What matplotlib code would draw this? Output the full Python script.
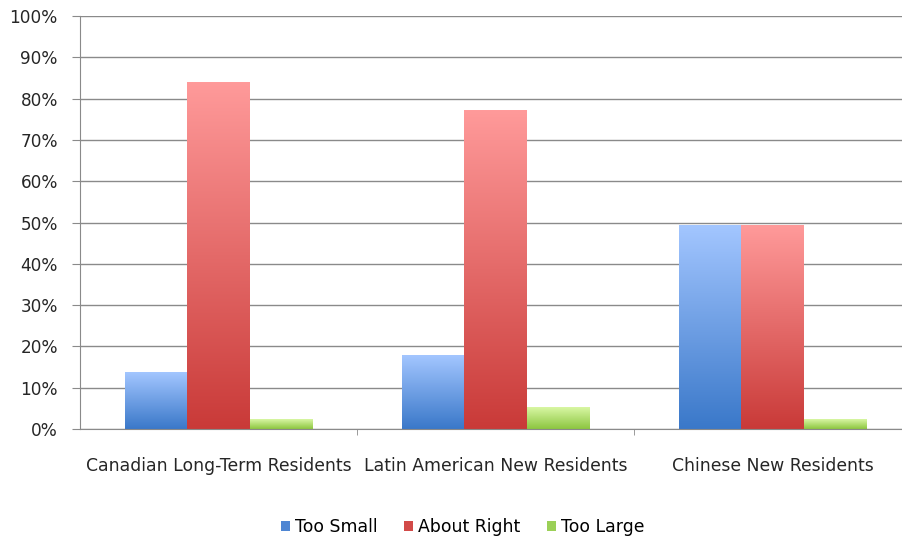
import numpy as np
import matplotlib.pyplot as plt
from matplotlib.colors import LinearSegmentedColormap
from matplotlib.patches import Patch
from matplotlib.ticker import PercentFormatter, FixedLocator, NullFormatter

categories = ['Canadian Long-Term Residents', 'Latin American New Residents', 'Chinese New Residents']
series = ['Too Small', 'About Right', 'Too Large']
too_small = [13.8, 17.7, 49.2]
about_right = [84.0, 77.2, 49.2]
too_large = [2.4, 5.2, 2.2]

# (top colour, bottom colour) for each series' vertical gradient
shades = [('#a3c6ff', '#3a78c9'), ('#ff9a9a', '#c93a38'), ('#d9f7a4', '#8cc640')]
legend_colors = ['#4f86d3', '#d24a48', '#9bd057']

plt.rcParams['font.family'] = ['DejaVu Sans']
fig = plt.figure(figsize=(9.02, 5.39), dpi=100)
# plot area runs a little past the right edge of the canvas
ax = fig.add_axes([0.0887, 0.204, 0.9213, 0.766])

x = np.arange(len(categories))
width = 0.224
values = [too_small, about_right, too_large]

for i, (vals, (top, bottom)) in enumerate(zip(values, shades)):
    bars = ax.bar(x + (i - 1) * width, vals, width, color='none', edgecolor='none')
    cmap = LinearSegmentedColormap.from_list(series[i], [bottom, top])
    grad = np.linspace(1, 0, 256).reshape(-1, 1)
    for b in bars:
        x0, y0 = b.get_x(), b.get_y()
        ax.imshow(grad, cmap=cmap, vmin=0, vmax=1, aspect='auto',
                  extent=(x0, x0 + b.get_width(), y0, y0 + b.get_height()),
                  zorder=2, interpolation='bilinear')

ax.set_xlim(-0.5, 2.5)
ax.set_ylim(0, 100)
ax.set_yticks(np.arange(0, 101, 10))
ax.yaxis.set_major_formatter(PercentFormatter(decimals=0))
ax.grid(axis='y', color='#8a8a8a', linewidth=1.0, zorder=0)
ax.set_axisbelow(True)

# category labels sit between boundary ticks
ax.set_xticks(x)
ax.set_xticklabels(categories, fontsize=12.4, color='#262626')
ax.tick_params(axis='x', length=0, pad=20)
ax.xaxis.set_minor_locator(FixedLocator([0.5, 1.5]))
ax.xaxis.set_minor_formatter(NullFormatter())
ax.tick_params(axis='x', which='minor', length=4, color='#8a8a8a')
ax.tick_params(axis='y', length=6, color='#8a8a8a', labelsize=12.2, labelcolor='#262626', pad=10)

for s in ['top', 'right']:
    ax.spines[s].set_visible(False)
ax.spines['left'].set_color('#8a8a8a')
ax.spines['bottom'].set_color('#8a8a8a')

handles = [Patch(facecolor=c, label=l) for c, l in zip(legend_colors, series)]
fig.legend(handles=handles, loc='center', bbox_to_anchor=(0.513, 0.022), ncol=3,
           frameon=False, fontsize=12.4, handlelength=0.52, handleheight=0.52,
           handletextpad=0.3, columnspacing=1.55)

fig.savefig('out.png', dpi=100)
